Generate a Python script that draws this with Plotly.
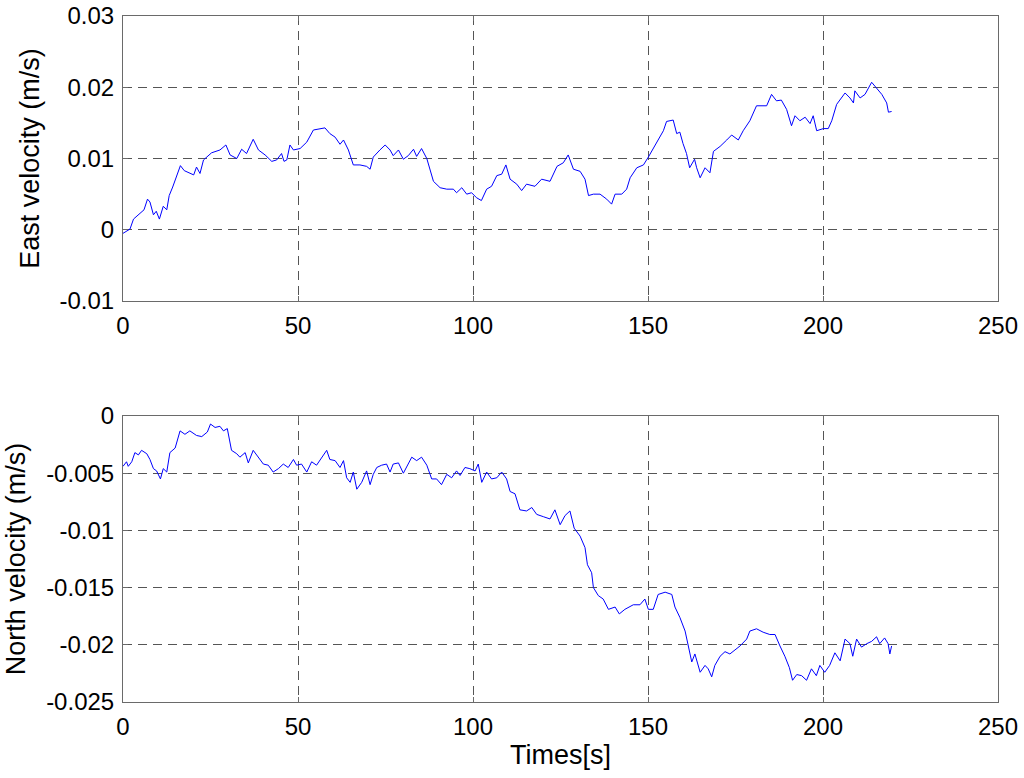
import plotly.graph_objects as go

# East velocity (m/s)
east_time = [
    0, 1, 2, 3, 4, 5, 6, 7, 7.7, 8.7,
    9.5, 10.4, 11.5, 12.5, 13.2, 14.2, 15.2, 16.4, 17.5, 19.3,
    20.2, 21, 22, 23, 25.3, 27.7, 29.4, 30.6, 32.5, 33.9,
    35.3, 37.2, 38.7, 40.6, 42.5, 43.9, 45.3, 46, 46.8, 47.7,
    48.7, 50.6, 52.5, 54.4, 56.3, 57.7, 59.1, 60.6, 62, 63,
    64.4, 65.8, 67.7, 69.6, 70.6, 71.5, 73.4, 74.9, 76.3, 77.2,
    78.7, 80.1, 81.5, 83, 83.9, 85.3, 86.8, 87.7, 88.7, 90.6,
    92.5, 94.4, 95.3, 96.8, 98.2, 99.6, 101, 102.4, 103.9, 105.3,
    106.8, 108.2, 109.4, 110.6, 112.5, 113.9, 115.3, 117.7, 119.6, 122,
    123, 124, 125.8, 127.2, 128.7, 130.6, 132, 133, 134.4, 136.3,
    138.2, 139.6, 140.6, 142.5, 143.9, 144.9, 146.8, 148.7, 150.1, 151.5,
    152.9, 154.4, 155.3, 157.2, 158.2, 159.1, 160, 161, 161.9, 163.3,
    163.9, 164.9, 166.3, 167.7, 168.7, 170.6, 172.5, 173.9, 175.8, 177.2,
    179.1, 181, 183.9, 185.3, 186.7, 188.1, 189.6, 191, 192, 193.4,
    194.9, 196.3, 197.2, 198.2, 200.1, 201.5, 202.5, 203.9, 206.3, 207.7,
    208.7, 209.1, 210.6, 212, 213.9, 215.3, 216.8, 218.2, 218.7, 219.6,
]
east_vel = [
    -0.0005, -0.0002, 0.0001, 0.0015, 0.0019, 0.0023, 0.0028, 0.0043, 0.0039, 0.0021,
    0.0026, 0.0015, 0.0033, 0.0028, 0.0048, 0.0060, 0.0075, 0.0090, 0.0083, 0.0079,
    0.0077, 0.0088, 0.0079, 0.0098, 0.0108, 0.0112, 0.0119, 0.0105, 0.0100, 0.0113,
    0.0107, 0.0127, 0.0112, 0.0105, 0.0096, 0.0098, 0.0107, 0.0096, 0.0098, 0.0119,
    0.0112, 0.0114, 0.0123, 0.0140, 0.0142, 0.0143, 0.0135, 0.0130, 0.0120, 0.0126,
    0.0112, 0.0091, 0.0091, 0.0089, 0.0085, 0.0102, 0.0112, 0.0119, 0.0112, 0.0104,
    0.0112, 0.0099, 0.0104, 0.0113, 0.0103, 0.0114, 0.0100, 0.0084, 0.0068, 0.0059,
    0.0057, 0.0057, 0.0052, 0.0059, 0.0050, 0.0052, 0.0045, 0.0041, 0.0057, 0.0061,
    0.0076, 0.0078, 0.0091, 0.0071, 0.0064, 0.0055, 0.0064, 0.0061, 0.0071, 0.0068,
    0.0078, 0.0089, 0.0094, 0.0105, 0.0085, 0.0082, 0.0071, 0.0048, 0.0050, 0.0050,
    0.0043, 0.0036, 0.0050, 0.0050, 0.0057, 0.0073, 0.0087, 0.0091, 0.0102, 0.0114,
    0.0126, 0.0139, 0.0152, 0.0154, 0.0135, 0.0137, 0.0121, 0.0107, 0.0087, 0.0099,
    0.0087, 0.0073, 0.0087, 0.0080, 0.0110, 0.0117, 0.0126, 0.0133, 0.0126, 0.0139,
    0.0153, 0.0174, 0.0174, 0.0190, 0.0181, 0.0182, 0.0169, 0.0146, 0.0160, 0.0153,
    0.0158, 0.0149, 0.0160, 0.0139, 0.0142, 0.0142, 0.0153, 0.0176, 0.0192, 0.0185,
    0.0178, 0.0195, 0.0185, 0.0190, 0.0207, 0.0199, 0.0190, 0.0178, 0.0165, 0.0166,
]

# North velocity (m/s)
north_time = [
    0, 1, 1.5, 2.5, 3.4, 4.4, 5.3, 6.8, 7.7, 8.7,
    9.6, 10.7, 11.5, 12.5, 13.4, 14.9, 16.3, 17.7, 19.1, 21,
    22.5, 24.1, 25, 26.3, 27.7, 28.7, 29.8, 31, 32.5, 33.4,
    34.9, 35.8, 37.2, 38.7, 40.1, 41.5, 42.9, 44.4, 45.8, 47.2,
    48.7, 49.6, 51, 52.5, 53.9, 55.3, 56.8, 58.2, 59.1, 60.6,
    62, 63, 63.9, 64.9, 65.8, 66.8, 68.2, 69.6, 70.6, 71.5,
    72.5, 73.9, 75.3, 76.3, 77.2, 78.7, 80.1, 81.5, 82.5, 83.9,
    85.3, 86.8, 88.2, 89.6, 91, 92.5, 93.9, 95.3, 96.3, 97.7,
    99.1, 100.6, 101.5, 102.5, 103.9, 105.3, 106.8, 108.2, 109.6, 110.6,
    112, 113.4, 115.3, 116.8, 118.2, 120.1, 122, 123.4, 124.9, 126.3,
    127.7, 128.9, 130.6, 132, 132.7, 133.9, 134.4, 135.8, 137.2, 138.7,
    140.6, 141.8, 143.4, 145.8, 147.7, 149.1, 150.1, 151.5, 152.9, 154.9,
    156.8, 157.7, 159.1, 160.6, 161.5, 162.5, 163.4, 164.9, 166.3, 167.2,
    168.2, 169.1, 170.6, 172, 173.4, 174.9, 176.3, 178.2, 179.1, 181,
    182.9, 184.8, 186.3, 187.7, 189.1, 190.4, 191.3, 192.5, 193.9, 195.3,
    196.7, 198.1, 199.1, 200.5, 201.9, 203.4, 204.9, 206.3, 207.7, 208.5,
    209.6, 211, 212.5, 213.9, 215.3, 216.2, 217.6, 218.6, 219.1, 219.6,
]
north_vel = [
    -0.0044, -0.0040, -0.0044, -0.0040, -0.0032, -0.0034, -0.0030, -0.0033, -0.0038, -0.0046,
    -0.0048, -0.0055, -0.0046, -0.0049, -0.0032, -0.0028, -0.0013, -0.0016, -0.0013, -0.0017,
    -0.0018, -0.0014, -0.0007, -0.0010, -0.0009, -0.0013, -0.0011, -0.0030, -0.0033, -0.0036,
    -0.0032, -0.0041, -0.0030, -0.0036, -0.0042, -0.0043, -0.0049, -0.0046, -0.0042, -0.0045,
    -0.0038, -0.0043, -0.0042, -0.0049, -0.0040, -0.0043, -0.0036, -0.0030, -0.0038, -0.0039,
    -0.0045, -0.0039, -0.0054, -0.0058, -0.0049, -0.0064, -0.0058, -0.0048, -0.0060, -0.0051,
    -0.0045, -0.0043, -0.0042, -0.0049, -0.0042, -0.0041, -0.0050, -0.0041, -0.0036, -0.0039,
    -0.0036, -0.0043, -0.0055, -0.0055, -0.0060, -0.0051, -0.0054, -0.0048, -0.0052, -0.0045,
    -0.0046, -0.0048, -0.0042, -0.0058, -0.0049, -0.0055, -0.0054, -0.0049, -0.0055, -0.0066,
    -0.0068, -0.0082, -0.0083, -0.0080, -0.0086, -0.0088, -0.0090, -0.0082, -0.0095, -0.0087,
    -0.0083, -0.0098, -0.0105, -0.0115, -0.0130, -0.0137, -0.0150, -0.0157, -0.0160, -0.0169,
    -0.0167, -0.0173, -0.0169, -0.0165, -0.0165, -0.0160, -0.0169, -0.0169, -0.0156, -0.0154,
    -0.0156, -0.0167, -0.0176, -0.0188, -0.0202, -0.0215, -0.0208, -0.0224, -0.0218, -0.0221,
    -0.0228, -0.0218, -0.0210, -0.0206, -0.0208, -0.0204, -0.0201, -0.0195, -0.0188, -0.0186,
    -0.0189, -0.0191, -0.0191, -0.0201, -0.0210, -0.0220, -0.0231, -0.0226, -0.0227, -0.0231,
    -0.0221, -0.0227, -0.0218, -0.0224, -0.0218, -0.0207, -0.0214, -0.0195, -0.0199, -0.0210,
    -0.0195, -0.0202, -0.0199, -0.0197, -0.0193, -0.0199, -0.0194, -0.0199, -0.0208, -0.0201,
]

# tick labels (hyphen minus, as in the original)
time_ticks = [0, 50, 100, 150, 200, 250]
east_ticks = [-0.01, 0, 0.01, 0.02, 0.03]
east_tick_text = ["-0.01", "0", "0.01", "0.02", "0.03"]
north_ticks = [-0.025, -0.02, -0.015, -0.01, -0.005, 0]
north_tick_text = ["-0.025", "-0.02", "-0.015", "-0.01", "-0.005", "0"]

FONT = "Liberation Sans, Arial, sans-serif"

fig = go.Figure()

fig.add_trace(go.Scatter(
    x=east_time, y=east_vel, mode="lines",
    line=dict(color="#0000ff", width=1),
    xaxis="x", yaxis="y", showlegend=False
))
fig.add_trace(go.Scatter(
    x=north_time, y=north_vel, mode="lines",
    line=dict(color="#0000ff", width=1),
    xaxis="x2", yaxis="y2", showlegend=False
))

axis_style = dict(
    showline=True, linecolor="#6a6a6a", linewidth=1, mirror="ticks",
    ticks="inside", ticklen=5, tickcolor="#6a6a6a",
    showgrid=True, gridcolor="#555555", gridwidth=1, griddash="9px,6px",
    zeroline=False, automargin=False,
    tickfont=dict(family=FONT, size=24, color="black"),
)
title_font = dict(family=FONT, size=27, color="black")

fig.update_layout(
    width=1024, height=778,
    margin=dict(l=123, r=26, t=16, b=76),
    paper_bgcolor="white", plot_bgcolor="white",
    font=dict(family=FONT, color="black"),
    xaxis=dict(domain=[0, 1], anchor="y", range=[0, 250],
               tickvals=time_ticks, ticklabelstandoff=3, **axis_style),
    yaxis=dict(domain=[0.5845, 1], anchor="x", range=[-0.01, 0.03],
               tickvals=east_ticks, ticktext=east_tick_text,
               ticklabelstandoff=3,
               title=dict(text="East velocity (m/s)", standoff=12,
                          font=title_font),
               **axis_style),
    xaxis2=dict(domain=[0, 1], anchor="y2", range=[0, 250],
                tickvals=time_ticks, ticklabelstandoff=3,
                title=dict(text="Times[s]", standoff=6, font=title_font),
                **axis_style),
    yaxis2=dict(domain=[0, 0.4169], anchor="x2", range=[-0.025, 0],
                tickvals=north_ticks, ticktext=north_tick_text,
                ticklabelstandoff=3,
                title=dict(text="North velocity (m/s)", standoff=12,
                           font=title_font),
                **axis_style),
)

# drop the default 8px body margin so the figure fills the window exactly
fig.write_html(
    "out.html",
    config={"displayModeBar": False},
    post_script="document.body.style.margin='0'; document.body.style.overflow='hidden';",
)
